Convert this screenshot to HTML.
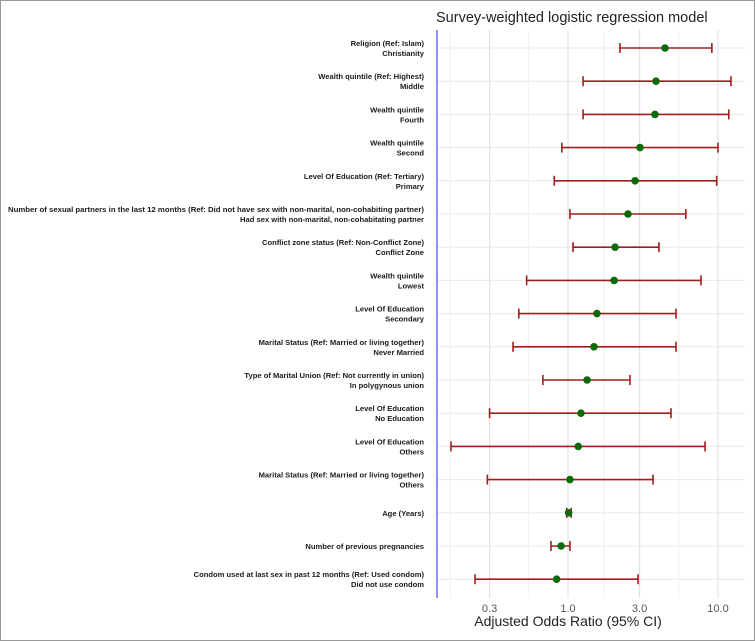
<!DOCTYPE html>
<html><head><meta charset="utf-8"><style>
html,body{margin:0;padding:0;background:#fff}
svg{display:block}
</style></head><body>
<svg id="chart" width="755" height="641" viewBox="0 0 755 641" xmlns="http://www.w3.org/2000/svg" font-family="Liberation Sans, sans-serif">
<rect x="0.5" y="0.5" width="754" height="640" fill="#fff" stroke="#999"/>
<text x="436" y="22" font-size="14.5" fill="#222">Survey-weighted logistic regression model</text>
<g id="grid"></g>
<line x1="437" y1="30" x2="437" y2="598" stroke="#6a6aff" stroke-width="1.5"/>
<g id="marks"></g>
<g id="labels"></g>
<g id="ticks"></g>
<text x="568" y="626" font-size="14" text-anchor="middle" fill="#222">Adjusted Odds Ratio (95% CI)</text>
</svg>
<script>
const groupLabels = ["Religion (Ref: Islam)","Wealth quintile (Ref: Highest)","Wealth quintile","Wealth quintile","Level Of Education (Ref: Tertiary)","Number of sexual partners in the last 12 months (Ref: Did not have  sex with non-marital, non-cohabiting partner)","Conflict zone status (Ref: Non-Conflict Zone)","Wealth quintile","Level Of Education ","Marital Status (Ref: Married or living together)","Type of Marital Union (Ref: Not currently in union)","Level Of Education ","Level Of Education ","Marital Status (Ref: Married or living together)","Age (Years)","Number of previous pregnancies","Condom used at last sex in past 12 months (Ref: Used condom)"];
const levelLabels = ["Christianity","Middle","Fourth","Second","Primary","Had sex with non-marital, non-cohabitating partner","Conflict Zone","Lowest","Secondary","Never Married","In polygynous union","No Education","Others","Others","","","Did not use condom"];
const orValues = [4.43,3.86,3.8,3.02,2.8,2.51,2.06,2.03,1.56,1.49,1.34,1.22,1.17,1.03,1.01,0.90,0.84];
const ciLower = [2.22,1.26,1.26,0.91,0.81,1.03,1.08,0.53,0.47,0.43,0.68,0.30,0.166,0.29,0.98,0.77,0.24];
const ciUpper = [9.1,12.2,11.8,10.0,9.8,6.1,4.04,7.7,5.25,5.25,2.59,4.86,8.2,3.69,1.05,1.03,2.93];
const tickValues = [0.3,1.0,3.0,10.0];
const tickLabels = ["0.3","1.0","3.0","10.0"];
const minorTicks = [0.164,0.548,1.73,5.48];

const NS="http://www.w3.org/2000/svg";
const x = v => 568 + 150*Math.log10(v);
const y = i => 48 + i*33.2;
function mk(tag, attrs, parent){const e=document.createElementNS(NS,tag);for(const k in attrs)e.setAttribute(k,attrs[k]);parent.appendChild(e);return e;}
const grid=document.getElementById('grid'), marks=document.getElementById('marks'), labels=document.getElementById('labels'), ticks=document.getElementById('ticks');
orValues.forEach((v,i)=>{
  const l=mk('line',{x1:438,x2:745,y1:y(i),y2:y(i),stroke:'#e8e8e8','stroke-width':1},grid);
  
  
});
minorTicks.forEach(v=>{
  const l=mk('line',{x1:x(v),x2:x(v),y1:30,y2:598,stroke:'#efefef','stroke-width':1},grid);
  
  
});
tickValues.forEach((v,i)=>{
  const l=mk('line',{x1:x(v),x2:x(v),y1:30,y2:598,stroke:'#e2e2e2','stroke-width':1.2},grid);
  
  
  const t=mk('text',{x:x(v),y:612,'font-size':11,'text-anchor':'middle',fill:'#555'},ticks);
  t.textContent=tickLabels[i];
  
  
});
orValues.forEach((v,i)=>{
  const g=mk('g',{},marks);
  
  
  const yy=y(i), a=x(ciLower[i]), b=x(ciUpper[i]);
  const c='#a11d1d';
  const w=mk('line',{x1:a,x2:b,y1:yy,y2:yy,stroke:c,'stroke-width':1.6},g);
  
  
  [a,b].forEach(xx=>{
    const cap=mk('line',{x1:xx,x2:xx,y1:yy-5,y2:yy+5,stroke:c,'stroke-width':1.6},g);
    
    
  });
  const p=mk('circle',{cx:x(v),cy:yy,r:3.8,fill:'#0b6b0b'},g);
  
  
  const t1=mk('text',{x:424,y:yy-2,'font-size':7.6,'font-weight':'bold','text-anchor':'end',fill:'#1a1a1a'},labels);
  t1.textContent=groupLabels[i];
  
  
  if(i===5){t1.setAttribute('textLength',416);t1.setAttribute('lengthAdjust','spacingAndGlyphs');}
  if(levelLabels[i]){
    const t2=mk('text',{x:424,y:yy+8,'font-size':7.6,'font-weight':'bold','text-anchor':'end',fill:'#1a1a1a'},labels);
    t2.textContent=levelLabels[i];
    
    
  } else {
    t1.setAttribute('y',yy+3);
  }
});
</script>
</body></html>
